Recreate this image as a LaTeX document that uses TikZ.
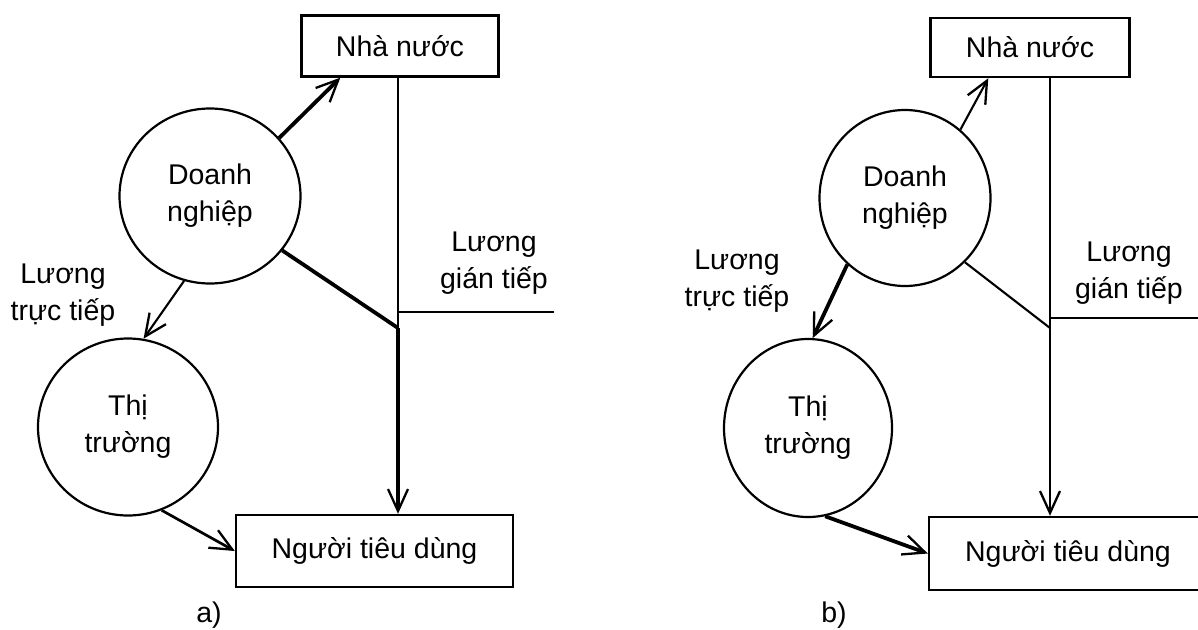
\documentclass[tikz,border=0pt]{standalone}
\usepackage{fontspec}
\setmainfont{Liberation Sans}
\usetikzlibrary{arrows.meta,shapes.geometric,calc}
\tikzset{
  boxnode/.style={draw,line width=2.4pt,minimum width=#1,minimum height=61pt,inner sep=0pt},
  oval/.style={draw,ellipse,line width=2.2pt,align=center,inner sep=0pt},
  lbl/.style={align=center,inner sep=0pt},
  tip/.style={-{Straight Barb[length=22pt,width=20pt,line width=2.3pt]}},
  wthick/.style={line width=3.8pt},
  wmid/.style={line width=2.7pt},
  wthin/.style={line width=2.1pt}
}
\begin{document}
\begin{tikzpicture}[x=1pt,y=-1pt,font=\fontsize{28.5}{37}\selectfont]
\useasboundingbox (0,0) rectangle (1198,629);
\fill[white] (0,0) rectangle (1198,629);
% ---------- panel a ----------
\node[boxnode=197pt] (nna) at (400,46) {Nhà nước};
\node[boxnode=277pt,minimum height=72pt] (ntda) at (374.5,551) {Người tiêu dùng};
\node[oval,minimum width=181pt,minimum height=175pt] (dna) at (210,196) {Doanh\\nghiệp};
\node[oval,minimum width=180pt,minimum height=177pt] (tta) at (128,427) {Thị\\trường};
\node[lbl] (lla) at (63,295) {Lương\\trực tiếp};
\node[lbl] (lra) at (494,263) {Lương\\gián tiếp};
\node[lbl] (capa) at (209,615) {a)};
\coordinate (ja) at (398,328);
\coordinate (ha) at (398,312);
\coordinate (hae) at (554,312);
\draw[wthick,tip] (dna.40) -- ($(nna.south west)+(40,0)$);
\draw[wthick] (dna.-37) -- (ja);
\draw[wmid] (nna.south -| ja) -- (ja);
\draw[wthick,tip] (ja) -- (ntda.north -| ja);
\draw[wmid] (ha) -- (hae);
\draw[wthin,tip] (dna.-107) -- (tta.80);
\draw[wmid,tip] (tta.-68) -- (ntda.west);
% ---------- panel b ----------
\node[boxnode=199pt,minimum height=59pt] (nnb) at (1030,47.5) {Nhà nước};
\node[boxnode=278pt,minimum height=73pt] (ntdb) at (1068,553.5) {Người tiêu dùng};
\node[oval,minimum width=171pt,minimum height=176pt] (dnb) at (905,198) {Doanh\\nghiệp};
\node[oval,minimum width=168pt,minimum height=178pt] (ttb) at (808,428) {Thị\\trường};
\node[lbl] (llb) at (737,281) {Lương\\trực tiếp};
\node[lbl] (lrb) at (1129,273) {Lương\\gián tiếp};
\node[lbl] (capb) at (834,615) {b)};
\coordinate (jb) at (1050,328);
\coordinate (hb) at (1050,318);
\coordinate (hbe) at (1210,318);
\draw[wthin,tip] (dnb.51) -- ($(nnb.south west)+(59,0)$);
\draw[wthin] (dnb.-47) -- (jb);
\draw[wmid] (nnb.south -| jb) -- (jb);
\draw[wmid,tip] (jb) -- (ntdb.north -| jb);
\draw[wmid] (hb) -- (hbe);
\draw[wthick,tip] (dnb.-131) -- (ttb.87);
\draw[wthick,tip] (ttb.-79) -- (ntdb.west);
\end{tikzpicture}
\end{document}
